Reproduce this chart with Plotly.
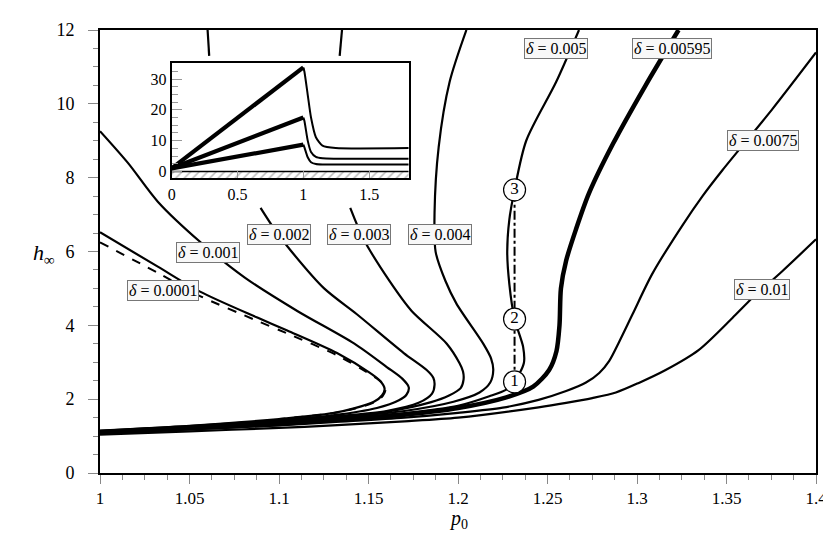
import plotly.graph_objects as go

# main panel: h_inf vs p0 for several delta
P_D0001 = [1.0, 1.0323, 1.0556, 1.0879, 1.1046, 1.1324, 1.1508, 1.1568, 1.1590, 1.1575, 1.1530, 1.1419, 1.13, 1.10, 1.05, 1.0]
H_D0001 = [6.52, 5.59, 4.92, 4.21, 3.86, 3.25, 2.71, 2.48, 2.28, 2.10, 1.93, 1.75, 1.62, 1.46, 1.28, 1.15]

P_LIMIT = [1.0, 1.0323, 1.0556, 1.0879, 1.1046, 1.1324, 1.1508, 1.1572, 1.1595, 1.1580, 1.1535, 1.1419, 1.13, 1.10]
H_LIMIT = [6.25, 5.42, 4.80, 4.12, 3.78, 3.19, 2.68, 2.46, 2.27, 2.09, 1.92, 1.74, 1.62, 1.46]

P_D001 = [1.0, 1.0156, 1.0323, 1.0562, 1.0807, 1.1102, 1.1419, 1.1602, 1.1690, 1.1725, 1.1712, 1.1670, 1.1547, 1.13, 1.10, 1.05, 1.0]
H_D001 = [9.26, 8.40, 7.35, 6.25, 5.30, 4.39, 3.51, 2.87, 2.55, 2.32, 2.12, 1.97, 1.76, 1.56, 1.43, 1.27, 1.14]

P_D002 = [1.0601, 1.0610, None, 1.0897, 1.0975, 1.1063, 1.1252, 1.1435, 1.1697, 1.1825, 1.1862, 1.1869, 1.1855, 1.1780, 1.16, 1.13, 1.10, 1.05, 1.0]
H_D002 = [12.0, 11.3, None, 7.18, 6.60, 6.04, 5.00, 4.30, 3.25, 2.79, 2.58, 2.39, 2.15, 1.90, 1.68, 1.53, 1.41, 1.26, 1.13]

P_D003 = [1.1352, 1.1339, None, 1.1398, 1.1472, 1.1619, 1.1741, 1.1936, 1.2008, 1.2028, 1.2031, 1.2015, 1.1950, 1.1850, 1.16, 1.13, 1.10, 1.05, 1.0]
H_D003 = [12.0, 11.3, None, 7.18, 6.34, 5.19, 4.39, 3.51, 2.98, 2.75, 2.53, 2.30, 2.10, 1.92, 1.66, 1.51, 1.39, 1.25, 1.12]

P_D004 = [1.2047, 1.1953, 1.1892, 1.1869, 1.1875, 1.1930, 1.1992, 1.2140, 1.2185, 1.2197, 1.2180, 1.2120, 1.1975, 1.17, 1.13, 1.10, 1.05, 1.0]
H_D004 = [12.0, 10.59, 8.83, 7.05, 5.99, 5.20, 4.58, 3.51, 3.10, 2.79, 2.45, 2.18, 1.93, 1.68, 1.49, 1.37, 1.24, 1.11]

P_D005 = [1.0, 1.05, 1.10, 1.13, 1.17, 1.20, 1.2175, 1.2270, 1.2316, 1.2368, 1.2364, 1.2316, 1.2287, 1.2275, 1.2287, 1.2316, 1.2381, 1.2548, 1.2676]
H_D005 = [1.10, 1.22, 1.35, 1.46, 1.62, 1.82, 2.08, 2.26, 2.47, 2.98, 3.41, 4.17, 5.11, 5.99, 6.87, 7.67, 9.0, 10.59, 12.0]

P_D00595 = [1.0, 1.05, 1.10, 1.13, 1.17, 1.20, 1.227, 1.242, 1.2509, 1.2550, 1.2567, 1.2575, 1.2604, 1.2659, 1.2732, 1.2865, 1.3049, 1.3232]
H_D00595 = [1.09, 1.21, 1.33, 1.44, 1.58, 1.76, 2.05, 2.34, 2.79, 3.30, 4.00, 5.00, 5.75, 6.60, 7.58, 8.91, 10.51, 12.0]

P_D0075 = [1.0, 1.05, 1.10, 1.13, 1.17, 1.20, 1.225, 1.245, 1.2604, 1.2715, 1.2789, 1.2845, 1.2900, 1.2975, 1.3086, 1.3254, 1.3366, 1.3477, 1.3755, 1.4]
H_D0075 = [1.07, 1.18, 1.29, 1.38, 1.50, 1.63, 1.77, 1.98, 2.22, 2.45, 2.71, 3.04, 3.55, 4.30, 5.40, 6.71, 7.50, 8.20, 9.85, 11.39]

P_D01 = [1.0, 1.05, 1.10, 1.13, 1.17, 1.20, 1.245, 1.2604, 1.2750, 1.2882, 1.3010, 1.316, 1.3344, 1.3533, 1.3644, 1.381, 1.4]
H_D01 = [1.04, 1.13, 1.22, 1.29, 1.40, 1.50, 1.78, 1.90, 2.03, 2.18, 2.44, 2.79, 3.33, 4.20, 4.74, 5.46, 6.33]

# marked points on the delta=0.005 branch
MARK_P = [1.2316, 1.2316, 1.2316]
MARK_H = [2.47, 4.17, 7.67]
MARK_TXT = ["1", "2", "3"]

# curve labels
LABEL_TXT = ["0.0001", "0.001", "0.002", "0.003", "0.004", "0.005", "0.00595", "0.0075", "0.01"]
LABEL_P = [1.0350, 1.0601, 1.0999, 1.1446, 1.1897, 1.2548, 1.3197, 1.3702, 1.3698]
LABEL_H = [4.95, 5.97, 6.47, 6.47, 6.47, 11.51, 11.51, 9.01, 4.98]

# inset profiles
INSET_X_UP = [0.0, 1.0]
INSET_UP = {"a": [1.0, 33.8], "b": [1.0, 17.5], "c": [1.0, 8.7]}
INSET_X_DOWN = [1.0, 1.008, 1.033, 1.058, 1.095, 1.145, 1.245, 1.8]
INSET_DOWN = {
    "a": [33.8, 32.4, 24.9, 17.5, 11.1, 8.4, 7.6, 7.57],
    "b": [17.5, 16.4, 10.0, 6.3, 4.7, 4.25, 4.15, 4.15],
    "c": [8.7, 7.8, 4.6, 3.0, 2.4, 2.25, 2.24, 2.24],
}

FONT = "Liberation Serif"
X_TICKS = [1, 1.05, 1.1, 1.15, 1.2, 1.25, 1.3, 1.35, 1.4]
X_TICKTEXT = ["1", "1.05", "1.1", "1.15", "1.2", "1.25", "1.3", "1.35", "1.4"]


def curve(p, h, width=2.0, dash="solid"):
    return go.Scatter(
        x=p, y=h, mode="lines", showlegend=False, hoverinfo="skip",
        line={"color": "black", "width": width, "dash": dash, "shape": "spline", "smoothing": 0.8},
        connectgaps=False,
    )


fig = go.Figure()

for p, h in [(P_D0001, H_D0001), (P_D001, H_D001), (P_D002, H_D002), (P_D003, H_D003),
             (P_D004, H_D004), (P_D005, H_D005), (P_D0075, H_D0075), (P_D01, H_D01)]:
    fig.add_trace(curve(p, h, width=2.2))
fig.add_trace(curve(P_LIMIT, H_LIMIT, width=2.0, dash="dash"))
fig.add_trace(curve(P_D00595, H_D00595, width=4.5))

fig.add_trace(go.Scatter(
    x=[MARK_P[0], MARK_P[-1]], y=[MARK_H[0], MARK_H[-1]], mode="lines",
    line={"color": "black", "width": 2, "dash": "dashdot"}, showlegend=False, hoverinfo="skip",
))
fig.add_trace(go.Scatter(
    x=MARK_P, y=MARK_H, mode="markers+text", text=MARK_TXT, textposition="middle center",
    textfont={"family": FONT, "size": 17, "color": "black"},
    marker={"size": 22, "color": "white", "line": {"color": "black", "width": 1.2}},
    showlegend=False, hoverinfo="skip",
))

# inset
fig.add_trace(go.Scatter(
    x=[0, 1.8, 1.8, 0, 0], y=[-2.3, -2.3, 0, 0, -2.3], mode="lines", fill="toself",
    fillcolor="white", fillpattern={"shape": "/", "fgcolor": "#777", "bgcolor": "white", "size": 6, "solidity": 0.25},
    line={"width": 0}, xaxis="x2", yaxis="y2", showlegend=False, hoverinfo="skip",
))
fig.add_trace(go.Scatter(
    x=[0, 1.8], y=[0, 0], mode="lines", line={"color": "black", "width": 1.5},
    xaxis="x2", yaxis="y2", showlegend=False, hoverinfo="skip",
))
for key in ["a", "b", "c"]:
    fig.add_trace(go.Scatter(
        x=INSET_X_DOWN, y=INSET_DOWN[key], mode="lines",
        line={"color": "black", "width": 2, "shape": "spline", "smoothing": 0.6},
        xaxis="x2", yaxis="y2", showlegend=False, hoverinfo="skip",
    ))
    fig.add_trace(go.Scatter(
        x=INSET_X_UP, y=INSET_UP[key], mode="lines", line={"color": "black", "width": 4.2},
        xaxis="x2", yaxis="y2", showlegend=False, hoverinfo="skip",
    ))

annotations = []
for txt, p, h in zip(LABEL_TXT, LABEL_P, LABEL_H):
    annotations.append({
        "x": p, "y": h, "xref": "x", "yref": "y", "text": f"<i>δ</i> = {txt}", "showarrow": False,
        "font": {"family": FONT, "size": 16, "color": "black"},
        "bgcolor": "#f8f8f8", "bordercolor": "#777", "borderwidth": 1, "borderpad": 1,
    })
annotations.append({
    "x": -0.097, "y": 0.494, "xref": "paper", "yref": "paper", "text": "<i>h</i><sub>∞</sub>",
    "showarrow": False, "font": {"family": FONT, "size": 22, "color": "black"},
})
annotations.append({
    "x": 0.5, "y": -0.104, "xref": "paper", "yref": "paper", "text": "<i>p</i><sub>0</sub>",
    "showarrow": False, "font": {"family": FONT, "size": 20, "color": "black"}, "yanchor": "middle",
})

axis_common = {
    "showline": True, "linecolor": "black", "linewidth": 2, "mirror": True,
    "showgrid": False, "zeroline": False,
}

fig.update_layout(
    width=831, height=534,
    margin={"l": 92, "r": 20, "t": 14, "b": 69},
    paper_bgcolor="white", plot_bgcolor="white",
    font={"family": FONT, "color": "black"},
    annotations=annotations,
    xaxis={
        **axis_common, "range": [1, 1.4], "tickvals": X_TICKS, "ticktext": X_TICKTEXT,
        "ticks": "outside", "ticklen": 9, "tickcolor": "#888", "tickwidth": 1,
        "minor": {"dtick": 0.0125, "ticks": "outside", "ticklen": 5, "tickcolor": "#888"},
        "tickfont": {"size": 17}, "ticklabelstandoff": 0,
    },
    yaxis={
        **axis_common, "range": [0, 12], "dtick": 2,
        "ticks": "outside", "ticklen": 10, "tickcolor": "#888", "tickwidth": 1,
        "minor": {"dtick": 0.5, "ticks": "outside", "ticklen": 5, "tickcolor": "#888"},
        "tickfont": {"size": 18}, "ticklabelstandoff": 10,
    },
    xaxis2={
        **axis_common, "domain": [0.1001, 0.4312], "anchor": "y2", "range": [0, 1.8],
        "tickvals": [0, 0.5, 1, 1.5], "ticktext": ["0", "0.5", "1", "1.5"],
        "ticks": "inside", "ticklen": 7, "tickcolor": "#999", "tickfont": {"size": 16},
    },
    yaxis2={
        **axis_common, "domain": [0.6652, 0.9246], "anchor": "x2", "range": [-2.24, 35.1],
        "tickvals": [0, 10, 20, 30], "ticks": "inside", "ticklen": 10, "tickcolor": "#999",
        "minor": {"dtick": 2.5, "ticks": "inside", "ticklen": 6, "tickcolor": "#999"},
        "tickfont": {"size": 16},
    },
)

fig.write_html("out.html")
